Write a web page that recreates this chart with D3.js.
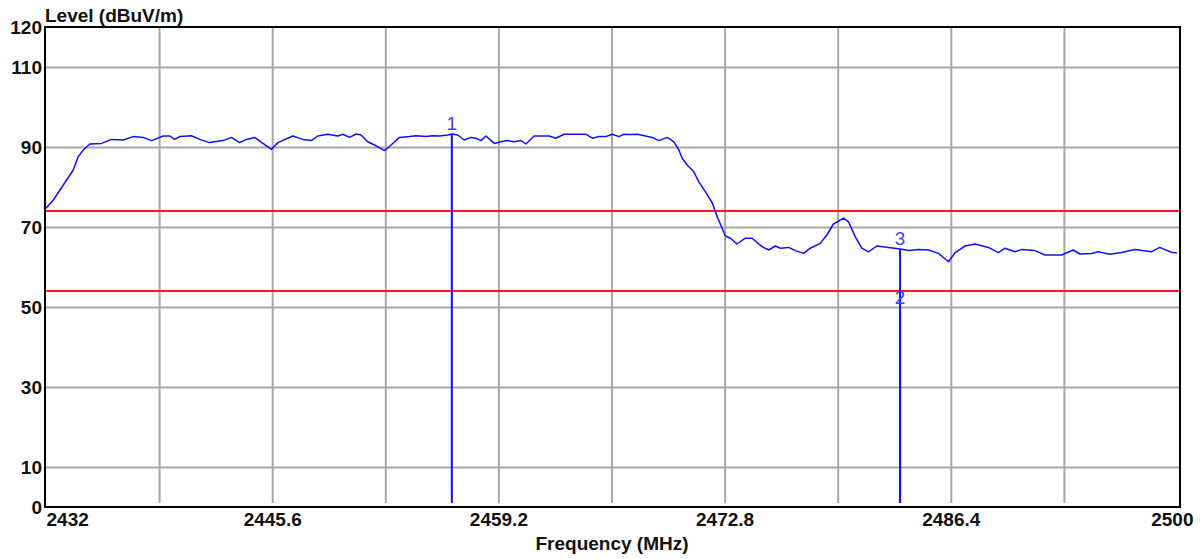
<!DOCTYPE html>
<html>
<head>
<meta charset="utf-8">
<script src="https://cdn.jsdelivr.net/npm/d3@7/dist/d3.min.js"></script>
<style>
  html, body { margin: 0; padding: 0; background: #ffffff; }
  svg { display: block; }
  text { font-family: "Liberation Sans", Arial, sans-serif; }
</style>
</head>
<body>
<svg id="chart" width="1202" height="559"></svg>
<script>
// ---- data ----
const freqMHz = [2432.00,2432.44,2433.04,2433.64,2433.94,2434.24,2434.64,2435.34,2435.94,2436.64,2437.24,2437.84,2438.34,2439.04,2439.44,2439.74,2440.04,2440.74,2441.24,2441.84,2442.64,2443.15,2443.64,2444.05,2444.54,2445.04,2445.55,2445.94,2446.84,2447.44,2447.95,2448.34,2448.94,2449.54,2449.84,2450.25,2450.65,2450.95,2451.34,2451.85,2452.35,2452.75,2453.25,2453.85,2454.25,2454.85,2455.24,2455.65,2456.15,2456.45,2456.75,2457.15,2457.55,2457.85,2458.15,2458.45,2458.95,2459.35,2459.75,2460.15,2460.55,2460.85,2461.35,2462.25,2462.65,2463.15,2464.45,2464.85,2465.25,2465.65,2466.05,2466.45,2466.75,2467.15,2467.55,2468.05,2468.45,2468.85,2469.35,2469.75,2470.05,2470.25,2470.55,2470.95,2471.25,2471.65,2472.05,2472.35,2472.65,2472.85,2473.15,2473.55,2474.05,2474.45,2475.05,2475.45,2475.85,2476.15,2476.65,2477.05,2477.55,2477.95,2478.55,2478.95,2479.35,2479.95,2480.25,2480.65,2481.05,2481.45,2481.95,2482.65,2483.36,2483.86,2484.46,2485.06,2485.66,2486.26,2486.66,2487.26,2487.86,2488.66,2489.26,2489.66,2490.26,2490.66,2491.46,2492.06,2493.06,2493.76,2494.16,2494.86,2495.26,2495.96,2496.66,2497.46,2498.46,2498.96,2499.66,2500.00];
const levelDb = [74.7,76.75,80.5,84.25,87.6,89.25,90.75,90.9,91.9,91.75,92.6,92.4,91.6,92.75,92.75,91.9,92.6,92.8,91.9,91.1,91.6,92.4,91.1,91.9,92.4,90.9,89.4,91.1,92.75,91.9,91.6,92.75,93.2,92.75,93.2,92.4,93.25,93.0,91.3,90.3,89.1,90.5,92.4,92.6,92.8,92.6,92.8,92.75,93.0,93.25,93.0,91.75,92.4,92.2,91.6,92.75,90.9,91.3,91.6,91.3,91.6,90.75,92.75,92.75,92.2,93.2,93.2,92.2,92.6,92.6,93.2,92.6,93.2,93.1,93.2,92.75,92.4,91.6,92.4,91.3,89.25,87.2,85.5,83.8,81.3,78.8,76.1,72.6,69.7,67.75,67.2,65.75,67.2,67.2,65.1,64.25,65.25,64.7,64.9,64.1,63.4,64.7,65.9,68.0,70.75,72.2,71.3,67.6,64.7,63.8,65.25,64.9,64.5,64.1,64.4,64.25,63.4,61.3,63.6,65.25,65.75,64.9,63.6,64.7,63.8,64.4,64.1,63.0,63.0,64.25,63.25,63.4,63.8,63.2,63.6,64.4,63.8,64.9,63.7,63.5];

const limitLevels = [74, 54];

const markerIds = ["1", "2", "3"];
const markerFreq = [2456.40, 2483.35, 2483.35];
const markerLevel = [93.3, 49.7, 64.5];

const xTickValues = [2432, 2445.6, 2459.2, 2472.8, 2486.4, 2500];
const xTickLabels = ["2432", "2445.6", "2459.2", "2472.8", "2486.4", "2500"];
const xGridValues = [2438.8, 2445.6, 2452.4, 2459.2, 2466, 2472.8, 2479.6, 2486.4, 2493.2];
const yTickValues = [0, 10, 30, 50, 70, 90, 110, 120];
const yGridValues = [10, 30, 50, 70, 90, 110];

const yTitle = "Level (dBuV/m)";
const xTitle = "Frequency (MHz)";

// ---- layout ----
const svg = d3.select("#chart");
const plotL = 46, plotR = 1177, plotT = 27, plotB = 507;
const frameR = 1180;
const gridBottom = 503;

const x = d3.scaleLinear().domain([2432, 2500]).range([plotL, plotR]);
const y = d3.scaleLinear().domain([0, 120]).range([plotB, plotT]);

const gridColor = "#a8a8a8";

// horizontal gridlines
const gy = svg.append("g")
  .attr("transform", `translate(${plotL},0)`)
  .call(d3.axisLeft(y).tickValues(yGridValues).tickSize(-(frameR - plotL)).tickFormat(""));
gy.select(".domain").remove();
gy.selectAll("line").attr("stroke", gridColor).attr("stroke-width", 2);

// vertical gridlines
const gx = svg.append("g")
  .attr("transform", `translate(0,${gridBottom})`)
  .call(d3.axisBottom(x).tickValues(xGridValues).tickSize(-(gridBottom - plotT)).tickFormat(""));
gx.select(".domain").remove();
gx.selectAll("line").attr("stroke", gridColor).attr("stroke-width", 2);

// limit lines
svg.append("g").selectAll("line").data(limitLevels).join("line")
  .attr("x1", plotL).attr("x2", frameR)
  .attr("y1", d => y(d)).attr("y2", d => y(d))
  .attr("stroke", "#ff1a1a").attr("stroke-width", 2);

// trace
const pts = freqMHz.map((f, i) => [f, levelDb[i]]);
svg.append("path")
  .datum(pts)
  .attr("fill", "none")
  .attr("stroke", "#1010ff")
  .attr("stroke-width", 1.5)
  .attr("stroke-linejoin", "round")
  .attr("d", d3.line().x(d => x(d[0])).y(d => y(d[1])));

// markers
const markers = markerIds.map((id, i) => ({ id, f: markerFreq[i], v: markerLevel[i] }));
svg.append("g").selectAll("line").data(markers).join("line")
  .attr("x1", d => x(d.f)).attr("x2", d => x(d.f))
  .attr("y1", d => y(d.v)).attr("y2", gridBottom)
  .attr("stroke", "#1010ff").attr("stroke-width", 2);
svg.append("g").selectAll("text").data(markers).join("text")
  .attr("x", d => x(d.f)).attr("y", d => y(d.v) - 4)
  .attr("text-anchor", "middle")
  .attr("font-size", 19)
  .attr("fill", "#4a3cf5")
  .text(d => d.id);

// frame
svg.append("rect")
  .attr("x", 45).attr("y", plotT).attr("width", frameR - 45).attr("height", plotB - plotT)
  .attr("fill", "none").attr("stroke", "#000").attr("stroke-width", 2);

// y axis labels
const ay = svg.append("g")
  .attr("transform", `translate(${plotL},0)`)
  .call(d3.axisLeft(y).tickValues(yTickValues).tickSize(0).tickPadding(4).tickFormat(d3.format("d")));
ay.select(".domain").remove();
ay.selectAll("text")
  .attr("font-family", "Liberation Sans, Arial, sans-serif")
  .attr("font-size", 19).attr("font-weight", "bold").attr("fill", "#111")
  .attr("dy", "0.35em");

// x axis labels
const ax = svg.append("g")
  .attr("transform", `translate(0,${plotB})`)
  .call(d3.axisBottom(x).tickValues(xTickValues).tickSize(0).tickPadding(0)
    .tickFormat((d, i) => xTickLabels[i]));
ax.select(".domain").remove();
ax.selectAll("text")
  .attr("font-family", "Liberation Sans, Arial, sans-serif")
  .attr("font-size", 19).attr("font-weight", "bold").attr("fill", "#111")
  .attr("y", 19).attr("dy", 0)
  .attr("text-anchor", (d, i) => i === 0 ? "start" : (i === xTickValues.length - 1 ? "end" : "middle"))
  .attr("dx", (d, i) => i === xTickValues.length - 1 ? 16 : 0);

// titles
svg.append("text").attr("x", 45).attr("y", 22)
  .attr("font-size", 19).attr("font-weight", "bold").attr("fill", "#111")
  .text(yTitle);
svg.append("text").attr("x", 612).attr("y", 550)
  .attr("text-anchor", "middle")
  .attr("font-size", 19).attr("font-weight", "bold").attr("fill", "#111")
  .text(xTitle);
</script>
</body>
</html>
